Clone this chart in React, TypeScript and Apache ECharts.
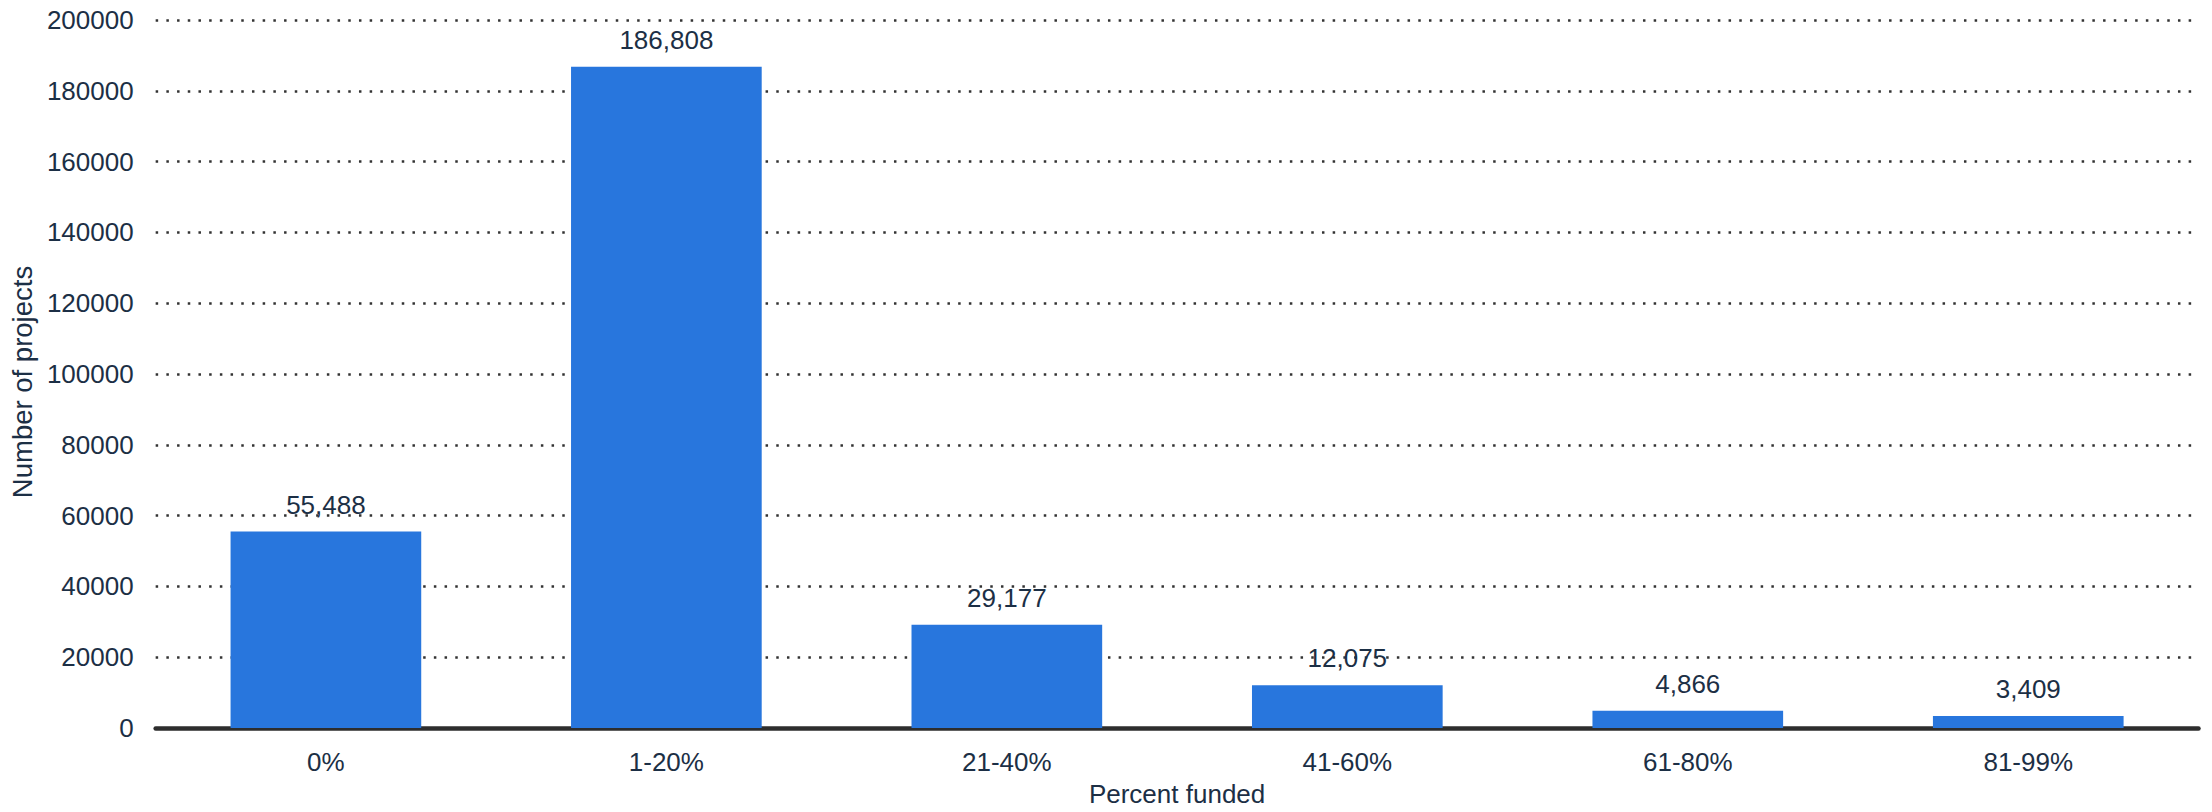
import React, { useEffect, useRef } from "react";
import * as echarts from "echarts";

const categories = ["0%", "1-20%", "21-40%", "41-60%", "61-80%", "81-99%"];
const projects = [55488, 186808, 29177, 12075, 4866, 3409];
const yTicks = { min: 0, max: 200000, interval: 20000 };

const TEXT = "#1c2f45";
const FONT = "'Liberation Sans', Arial, sans-serif";

export default function App() {
  const ref = useRef<HTMLDivElement>(null);
  useEffect(() => {
    document.body.style.margin = "0";
    if (!ref.current) return;
    const chart = echarts.init(ref.current, undefined, { renderer: "svg" });
    chart.setOption({
      animation: false,
      textStyle: { fontFamily: FONT },
      grid: { left: 154, right: 13.5, top: 20, bottom: 79.5, containLabel: false },
      xAxis: {
        type: "category",
        data: categories,
        name: "Percent funded",
        nameLocation: "middle",
        nameGap: 53,
        nameTextStyle: { color: TEXT, fontSize: 26, fontFamily: FONT, lineHeight: 26 },
        axisLine: { show: true, lineStyle: { color: "#2d2d2d", width: 4.5 } },
        axisTick: { show: false },
        axisLabel: { color: TEXT, fontSize: 26, fontFamily: FONT, margin: 21, lineHeight: 26 },
        splitLine: { show: false },
      },
      yAxis: {
        type: "value",
        min: yTicks.min,
        max: yTicks.max,
        interval: yTicks.interval,
        name: "Number of projects",
        nameLocation: "middle",
        nameGap: 106,
        nameTextStyle: {
          color: TEXT,
          fontSize: 27.5,
          fontFamily: FONT,
          lineHeight: 27.5,
          padding: [0, 16, 0, 0],
        },
        axisLine: { show: false },
        axisTick: { show: false },
        axisLabel: {
          color: TEXT,
          fontSize: 26,
          fontFamily: FONT,
          margin: 22,
          formatter: (v: number) => String(v),
        },
        splitLine: {
          show: true,
          lineStyle: { color: "#333333", width: 2.5, type: [2.5, 8.2] },
        },
      },
      series: [
        {
          type: "bar",
          data: projects,
          barWidth: "56%",
          itemStyle: { color: "#2876dd" },
          label: {
            show: true,
            position: "top",
            distance: 14,
            color: TEXT,
            fontSize: 26,
            fontFamily: FONT,
            formatter: (p: any) => Number(p.value).toLocaleString("en-US"),
          },
        },
      ],
    });
    return () => chart.dispose();
  }, []);
  return <div ref={ref} style={{ width: 2212, height: 812 }} />;
}
